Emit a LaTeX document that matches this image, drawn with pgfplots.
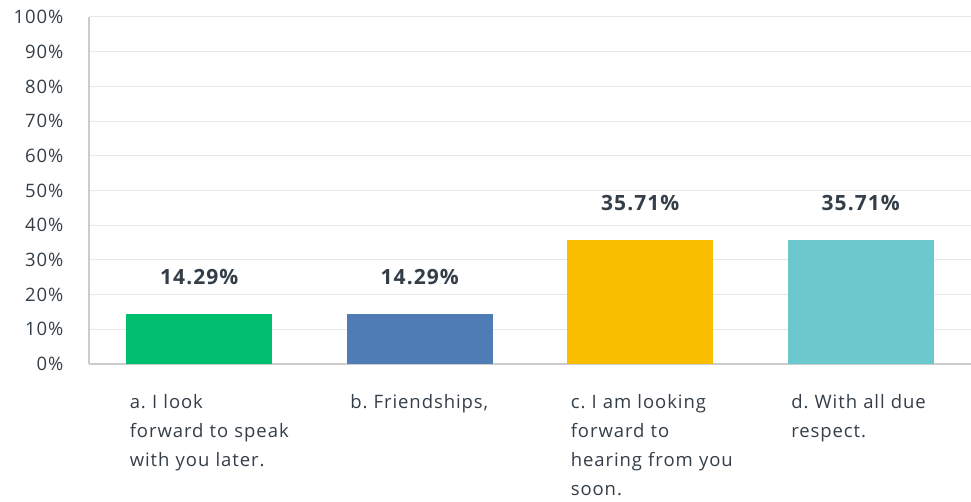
\documentclass[border=0pt]{standalone}
\usepackage{pgfplots}
\pgfplotsset{compat=1.18}
\usepackage{fontspec}
\setmainfont{Open Sans}[LetterSpace=5]
\frenchspacing
\definecolor{cgreen}{HTML}{00BF6F}
\definecolor{cblue}{HTML}{507CB6}
\definecolor{cyellow}{HTML}{F9BE00}
\definecolor{cteal}{HTML}{6BC8CD}
\definecolor{ctext}{HTML}{333E48}
\definecolor{cgrid}{HTML}{E8E8E8}
\definecolor{caxis}{HTML}{CCCCCC}
\begin{document}
\begin{tikzpicture}
\path[use as bounding box] (0,0) rectangle (971pt,502pt);
\begin{axis}[
  at={(89pt,138pt)}, anchor=south west,
  scale only axis, width=882pt, height=347pt,
  xmin=-0.5, xmax=3.5, ymin=0, ymax=100,
  axis x line*=bottom, axis y line*=left,
  axis line style={caxis, line width=1.2pt, -},
  ytick={0,10,...,100},
  yticklabel={\pgfmathprintnumber{\tick}\%},
  /pgf/number format/assume math mode=true,
  yticklabel style={font=\fontsize{18.5}{22}\selectfont, text=ctext, xshift=-22pt},
  ymajorgrids, grid style={cgrid, line width=1pt},
  major tick length=0pt,
  xtick={0,1,2,3},
  xticklabels={{a. I look\\forward to speak\\with you later.}, {b. Friendships,}, {c. I am looking\\forward to\\hearing from you\\soon.}, {d. With all due\\respect.}},
  xticklabel style={anchor=north west, xshift=-73pt, yshift=-27pt, text width=200pt, align=left, font=\fontsize{18.5}{29}\selectfont, text=ctext},
  ybar, bar width=146pt, bar shift=0pt,
  nodes near coords={\pgfmathprintnumber[fixed,precision=2,fixed zerofill]{\pgfplotspointmeta}\%},
  nodes near coords style={font=\bfseries\fontsize{21}{24}\selectfont, text=ctext, anchor=center, yshift=37pt},
  clip=false,
]
\addplot[fill=cgreen, draw=none] coordinates {(0,14.29)};
\addplot[fill=cblue, draw=none] coordinates {(1,14.29)};
\addplot[fill=cyellow, draw=none] coordinates {(2,35.71)};
\addplot[fill=cteal, draw=none] coordinates {(3,35.71)};
\end{axis}
\end{tikzpicture}
\end{document}
